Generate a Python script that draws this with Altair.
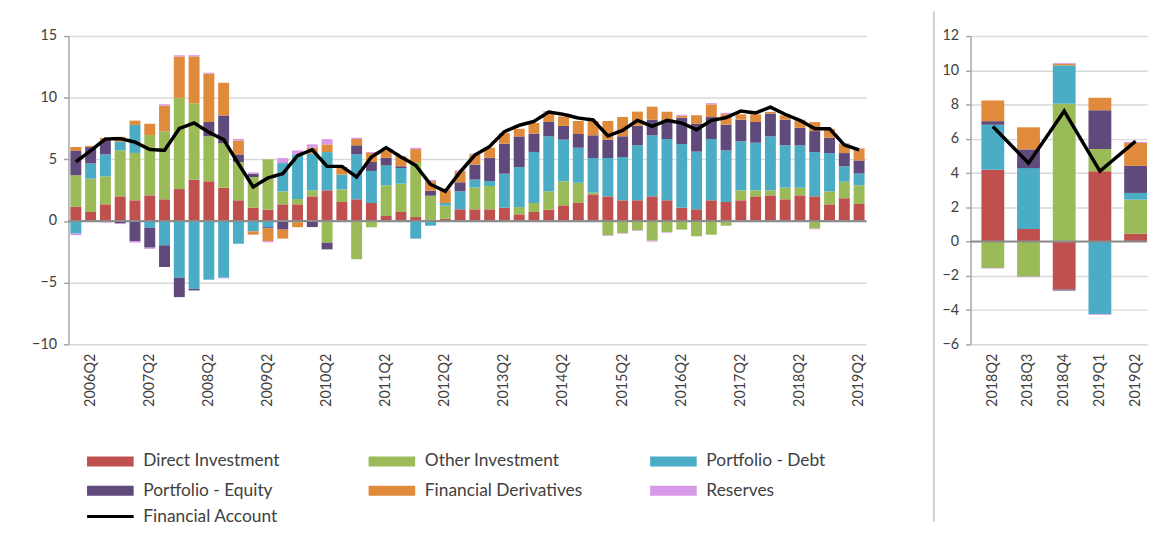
import altair as alt
import pandas as pd

FONT = "Lato"
TXT = "#404040"

# ---------------- data: left panel (2006Q1 - 2019Q2) ----------------
quarters = [f"{y}Q{q}" for y in range(2006, 2020) for q in (1, 2, 3, 4)][:54]

components = ["Direct Investment", "Other Investment", "Portfolio - Debt",
              "Portfolio - Equity", "Financial Derivatives", "Reserves"]
colors = ["#C0504D", "#9BBB59", "#4BACC6", "#604A7B", "#E08A3C", "#D898E8"]

direct_investment = [1.14, 0.73, 1.35, 2.00, 1.68, 2.08, 1.76, 2.59, 3.35,
                     3.22, 2.70, 1.68, 1.08, 0.92, 1.35, 1.35, 2.00, 2.49,
                     1.54, 1.76, 1.46, 0.41, 0.73, 0.32, 0.05, 0.19, 0.95,
                     0.95, 0.95, 1.08, 0.54, 0.73, 0.92, 1.27, 1.46, 2.16,
                     2.00, 1.68, 1.68, 2.00, 1.68, 1.08, 0.95, 1.68, 1.54,
                     1.68, 2.00, 2.08, 1.76, 2.08, 2.00, 1.35, 1.85, 1.38]
other_investment = [2.57, 2.70, 2.27, 3.73, 3.84, 4.89, 5.51, 7.40, 6.20,
                    3.65, 3.62, 3.10, 2.49, 4.08, 1.05, 0.43, 0.49, -1.76,
                    1.03, -3.10, -0.51, 2.49, 2.30, 4.46, 2.00, 1.05, 0.00,
                    1.76, 1.89, 0.00, 0.59, 0.73, 1.49, 1.95, 1.65, 0.14,
                    -1.16, -0.97, -0.76, -1.59, -0.89, -0.70, -1.24, -1.11, -0.38,
                    0.81, 0.49, 0.41, 0.95, 0.62, -0.62, 1.05, 1.34, 1.52]
portfolio_debt = [-1.03, 1.24, 1.78, 0.70, 2.27, -0.54, -1.97, -4.60, -5.50,
                  -4.76, -4.60, -1.84, -0.84, -0.50, 2.30, 3.62, 2.97, 3.10,
                  1.19, 3.65, 2.60, 1.60, 1.27, -1.43, -0.38, 0.22, 1.46,
                  0.65, 0.40, 2.76, 3.24, 4.14, 4.46, 3.38, 2.84, 2.81,
                  3.11, 3.51, 4.46, 4.95, 4.97, 5.16, 4.68, 4.97, 4.19,
                  3.97, 3.86, 4.38, 3.43, 3.43, 3.59, 3.11, 1.25, 0.95]
portfolio_equity = [1.97, 1.32, 1.14, -0.20, -1.62, -1.62, -1.76, -1.57, -0.13,
                    1.16, 2.24, 0.62, 0.27, -0.10, -0.70, -0.10, -0.49, -0.54,
                    0.00, 0.73, 0.73, 0.62, 0.14, 0.00, 0.40, 0.00, 0.73,
                    1.22, 1.89, 2.43, 2.49, 1.49, 1.16, 1.11, 1.11, 1.84,
                    1.49, 1.68, 1.59, 1.27, 1.51, 2.14, 2.27, 1.78, 2.08,
                    1.76, 1.68, 1.84, 2.08, 1.43, 1.70, 1.24, 1.07, 1.06]
financial_derivatives = [0.32, 0.10, 0.19, 0.40, 0.35, 0.92, 2.10, 3.35, 3.80,
                         3.92, 2.65, 1.13, -0.27, -1.03, -0.73, -0.40, 0.49, 0.62,
                         0.62, 0.51, 0.73, 0.62, 0.81, 1.05, 0.78, 1.03, 0.89,
                         0.81, 0.81, 0.86, 0.62, 0.86, 0.78, 0.78, 1.05, 1.16,
                         1.51, 1.57, 1.14, 1.05, 0.70, 0.16, 0.68, 1.03, 0.86,
                         0.43, 0.62, 0.14, 0.35, 0.65, 0.73, 0.73, 0.72, 0.95]
reserves = [-0.12, 0.00, -0.12, -0.05, -0.13, -0.10, 0.10, 0.10, 0.10,
            0.08, -0.05, 0.13, 0.10, -0.10, 0.40, 0.32, 0.27, 0.43,
            0.00, 0.10, 0.08, 0.00, 0.00, 0.10, 0.10, 0.08, 0.08,
            0.08, 0.00, 0.00, 0.00, 0.00, 0.10, 0.00, 0.00, 0.00,
            -0.05, -0.05, -0.05, -0.08, -0.05, 0.08, 0.00, 0.10, 0.10,
            0.00, 0.00, 0.00, 0.00, 0.00, -0.05, 0.00, 0.08, 0.05]
financial_account = [4.80, 5.70, 6.65, 6.68, 6.40, 5.80, 5.73, 7.50, 7.95,
                     7.20, 6.60, 4.65, 2.76, 3.50, 3.84, 5.30, 5.78, 4.43,
                     4.43, 3.57, 5.19, 5.95, 5.19, 4.51, 2.97, 2.41, 3.97,
                     5.35, 6.05, 7.25, 7.76, 8.08, 8.84, 8.65, 8.35, 8.20,
                     6.90, 7.35, 8.16, 7.68, 8.16, 7.95, 7.40, 8.16, 8.38,
                     8.92, 8.76, 9.24, 8.65, 8.16, 7.49, 7.49, 6.17, 5.77]

# ---------------- data: right panel (2018Q2 - 2019Q2) ----------------
r_quarters = ["2018Q2", "2018Q3", "2018Q4", "2019Q1", "2019Q2"]
r_direct_investment = [4.19, 0.74, -2.80, 4.11, 0.45]
r_other_investment = [-1.54, -2.05, 8.05, 1.29, 2.00]
r_portfolio_debt = [2.63, 3.55, 2.24, -4.23, 0.39]
r_portfolio_equity = [0.21, 1.09, -0.06, 2.26, 1.58]
r_financial_derivatives = [1.21, 1.29, 0.10, 0.74, 1.34]
r_reserves = [-0.03, -0.03, 0.04, -0.04, 0.06]
r_financial_account = [6.72, 4.58, 7.62, 4.11, 5.86]

left_ticks = [-10, -5, 0, 5, 10, 15]
right_ticks = [-6, -4, -2, 0, 2, 4, 6, 8, 10, 12]


def long_table(qs, series):
    rows = []
    for ci, (name, vals) in enumerate(zip(components, series)):
        for q, v in zip(qs, vals):
            rows.append({"quarter": q, "component": name, "value": v, "idx": ci})
    return pd.DataFrame(rows)


dfL = long_table(quarters, [direct_investment, other_investment, portfolio_debt,
                            portfolio_equity, financial_derivatives, reserves])
dfR = long_table(r_quarters, [r_direct_investment, r_other_investment, r_portfolio_debt,
                              r_portfolio_equity, r_financial_derivatives, r_reserves])
lineL = pd.DataFrame({"quarter": quarters, "value": financial_account,
                      "series": "Financial Account"})
lineR = pd.DataFrame({"quarter": r_quarters, "value": r_financial_account,
                      "series": "Financial Account"})
zeroL_df = pd.DataFrame({"quarter": [quarters[0]], "value": [0]})
zeroR_df = pd.DataFrame({"quarter": [r_quarters[0]], "value": [0]})

LEG_X = 33.5
LEG_Y = 420

color_enc = alt.Color(
    "component:N",
    scale=alt.Scale(domain=components, range=colors),
    legend=alt.Legend(
        title=None, orient="none", legendX=LEG_X, legendY=LEG_Y,
        direction="horizontal", columns=3, gridAlign="all",
        columnPadding=68, rowPadding=11,
        symbolType="M-4.7,-1H4.7V1H-4.7Z", symbolSize=100,
        symbolStrokeWidth=0, symbolOpacity=1,
        labelFont=FONT, labelFontSize=17.5, labelColor=TXT, labelOffset=24.5,
    ),
)
dash_enc = alt.StrokeDash(
    "series:N",
    scale=alt.Scale(domain=["Financial Account"], range=[[1, 0]]),
    legend=alt.Legend(
        title=None, orient="none", legendX=LEG_X, legendY=LEG_Y + 56,
        symbolType="M-4.7,0H4.7", symbolSize=100, symbolStrokeWidth=3,
        symbolStrokeColor="black", symbolFillColor="transparent",
        labelFont=FONT, labelFontSize=17.5, labelColor=TXT, labelOffset=24.5,
    ),
)


def y_axis(vals, min_extent):
    return alt.Axis(values=vals, title=None, grid=True, gridColor="#d9d9d9",
                    gridWidth=1.5, domainColor="#a6a6a6", domainWidth=1.5,
                    tickColor="#a6a6a6", tickWidth=1.5, tickSize=5,
                    labelFont=FONT, labelFontSize=14.5, labelColor=TXT,
                    labelPadding=7, labelOverlap=False, minExtent=min_extent)


def x_axis(expr=None):
    kw = dict(title=None, labelAngle=-90, ticks=False, domain=False,
              labelPadding=9, labelFont=FONT, labelFontSize=14.5, labelColor=TXT,
              labelOverlap=False)
    if expr:
        kw["labelExpr"] = expr
    return alt.Axis(**kw)


# ---------------- left panel ----------------
xL = alt.X("quarter:N", sort=quarters,
           scale=alt.Scale(paddingInner=0.26, paddingOuter=0.13),
           axis=x_axis("indexof(datum.label, 'Q2') > 0 ? datum.label : ''"))
yL = alt.Y("value:Q", scale=alt.Scale(domain=[-10, 15], nice=False, zero=False),
           axis=y_axis(left_ticks, 56))

barsL = alt.Chart(dfL).mark_bar().encode(
    x=xL,
    y=yL.copy().stack("zero"),
    color=color_enc,
    order=alt.Order("idx:Q", sort="ascending"),
)
zeroL = alt.Chart(zeroL_df).mark_rule(color="#8c8c8c", strokeWidth=2).encode(y=yL)
lineLc = alt.Chart(lineL).mark_line(color="black", strokeWidth=3.5).encode(
    x=xL, y=yL, strokeDash=dash_enc)
left = alt.layer(barsL, zeroL, lineLc).properties(width=805, height=311)

# ---------------- right panel ----------------
xR = alt.X("quarter:N", sort=r_quarters,
           scale=alt.Scale(paddingInner=0.36, paddingOuter=0.152, align=1),
           axis=x_axis())
yR = alt.Y("value:Q", scale=alt.Scale(domain=[-6, 12], nice=False, zero=False),
           axis=y_axis(right_ticks, 34))

barsR = alt.Chart(dfR).mark_bar().encode(
    x=xR,
    y=yR.copy().stack("zero"),
    color=color_enc,
    order=alt.Order("idx:Q", sort="ascending"),
)
zeroR = alt.Chart(zeroR_df).mark_rule(color="#8c8c8c", strokeWidth=2).encode(y=yR)
lineRc = alt.Chart(lineR).mark_line(color="black", strokeWidth=3.5).encode(
    x=xR, y=yR, strokeDash=dash_enc)
divider = alt.Chart(zeroR_df).mark_rule(color="#d0d0d0", strokeWidth=2).encode(
    x=alt.value(-37), y=alt.value(-25), y2=alt.value(490))
right = alt.layer(barsR, zeroR, lineRc, divider).properties(width=178, height=311)

chart = alt.hconcat(left, right, spacing=66).properties(
    padding={"left": 5, "top": 0, "right": 0, "bottom": 0}
).configure(font=FONT).configure_view(stroke=None)

chart.save("out.html", embed_options={"renderer": "svg", "actions": False})
